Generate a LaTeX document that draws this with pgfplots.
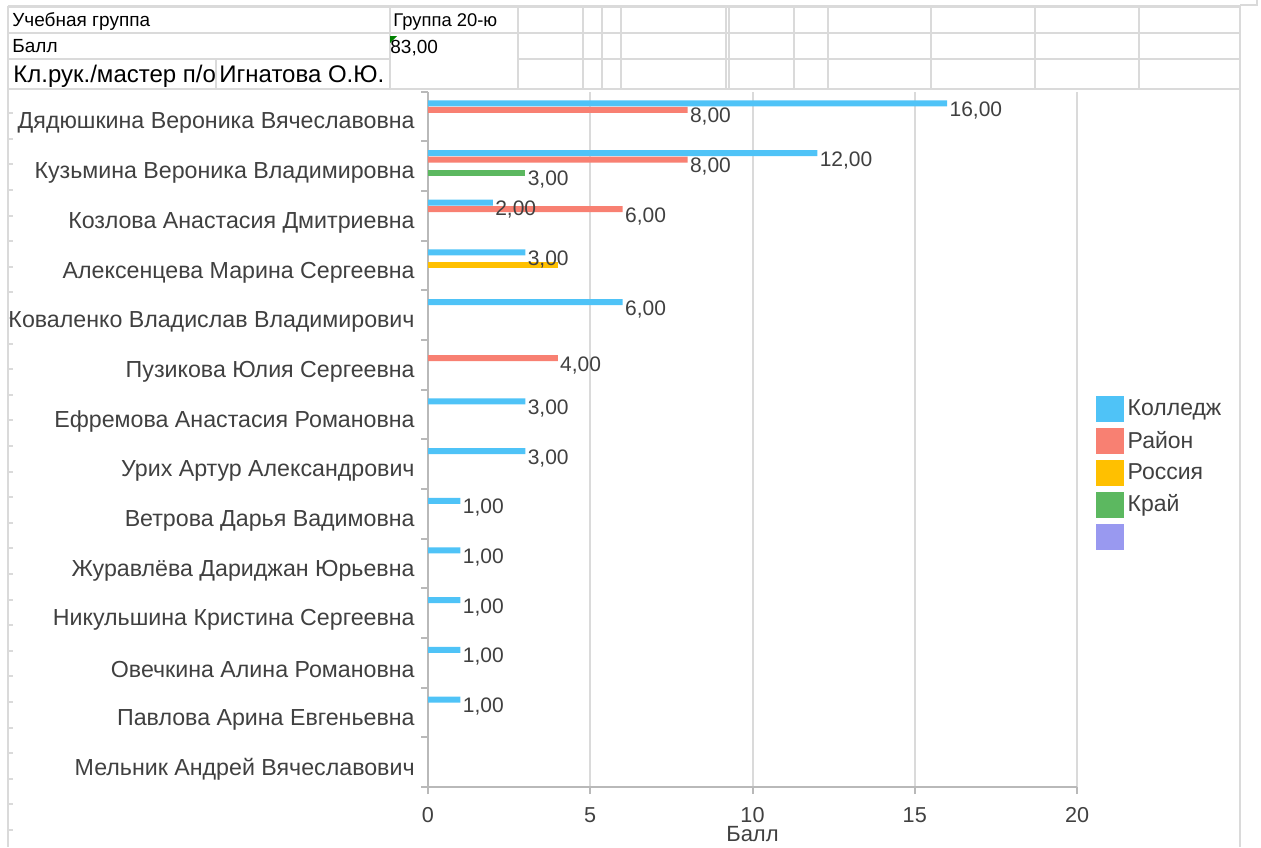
\documentclass[border=0pt]{standalone}
\usepackage{fontspec}
\setmainfont{Liberation Sans}
\usepackage{pgfplots}
\pgfplotsset{compat=1.18}

\definecolor{cblue}{RGB}{79,195,247}
\definecolor{cred}{RGB}{248,128,114}
\definecolor{cyel}{RGB}{255,192,0}
\definecolor{cgreen}{RGB}{92,184,96}
\definecolor{cpurple}{RGB}{153,153,240}
\definecolor{txt}{RGB}{64,64,64}
\definecolor{gridc}{RGB}{218,218,218}
\definecolor{axgray}{RGB}{185,185,185}

\pgfplotsset{
  lbl/.style={nodes near coords={\pgfmathprintnumber[fixed,fixed zerofill,precision=2,use comma]{\pgfplotspointmeta}},
    every node near coord/.append style={anchor=west, inner sep=1pt, yshift=-3.5pt, text=txt, font=\fontsize{10.5}{12}\selectfont}},
  sq/.style={legend image code/.code={\fill[#1] (0pt,-6.25pt) rectangle (13.5pt,6.25pt);}},
}

\begin{document}
\begin{tikzpicture}
\useasboundingbox (0,0) rectangle (630.5pt,-423.5pt);
% spreadsheet grid round the chart (1 px = 0.5pt)
\begin{scope}[x=0.5pt,y=-0.5pt]
  \tikzset{g/.style={draw=gridc, line width=1pt}}
  \draw[g, line width=1.5pt] (8,6) -- (1240,6);
  \draw[g] (1240,5) -- (1257,5) -- (1257,0);
  \draw[g] (8,6) -- (8,847);
  \draw[g] (1240,6) -- (1240,847);
  \draw[g] (8,33) -- (1240,33);
  \draw[g] (8,59) -- (390,59);
  \draw[g] (518,59) -- (1240,59);
  \draw[g] (8,89) -- (1240,89);
  \draw[g] (216,59) -- (216,89);
  \foreach \x in {390,518,583,602,621,726,729,794,828,931,1035,1139}
    \draw[g] (\x,6) -- (\x,89);
  \foreach \i in {0,...,28}
    \draw[g] (8,113.1+25.6*\i) -- (13,113.1+25.6*\i);
  \fill[green!50!black] (390,36) -- (397,36) -- (390,43) -- cycle;
  \node[anchor=base west, inner sep=0pt, font=\fontsize{9.5}{11}\selectfont] at (12,26) {Учебная группа};
  \node[anchor=base west, inner sep=0pt, font=\fontsize{9.5}{11}\selectfont] at (12,52) {Балл};
  \node[anchor=base west, inner sep=0pt, font=\fontsize{9.2}{11}\selectfont] at (393,26) {Группа 20-ю};
  \node[anchor=base west, inner sep=0pt, font=\fontsize{9.5}{11}\selectfont] at (390,53) {83,00};
  \node[anchor=base west, inner sep=0pt, font=\fontsize{12}{14}\selectfont] at (13,82) {Кл.рук./мастер п/о};
  \node[anchor=base west, inner sep=0pt, font=\fontsize{12}{14}\selectfont] at (219,82) {Игнатова О.Ю.};
\end{scope}

\begin{axis}[
  at={(214pt,-393.5pt)}, anchor=south west,
  scale only axis, width=324.5pt, height=347.75pt,
  xmin=0, xmax=20, ymin=0.5, ymax=14.5,
  xbar, bar width=3pt,
  axis lines*=left,
  axis line style={draw=axgray, line width=1pt},
  tick style={draw=axgray, line width=1pt},
  tick align=outside,
  major tick length=0pt, minor tick length=3.5pt,
  xtick={0,5,10,15,20}, minor xtick={0,5,10,15,20},
  ytick={1,...,14}, minor ytick={0.5,1.5,...,14.5},
  xmajorgrids, grid style={draw=gridc, line width=1pt},
  /pgf/number format/assume math mode=true,
  ticklabel style={text=txt, font=\fontsize{10.8}{12}\selectfont, inner sep=0pt},
  xticklabel style={yshift=-10pt},
  yticklabel style={xshift=-6.5pt, yshift=-3.5pt, font=\fontsize{11.6}{13}\selectfont},
  yticklabels={Мельник Андрей Вячеславович, Павлова Арина Евгеньевна, Овечкина Алина Романовна,
    Никульшина Кристина Сергеевна, Журавлёва Дариджан Юрьевна, Ветрова Дарья Вадимовна,
    Урих Артур Александрович, Ефремова Анастасия Романовна, Пузикова Юлия Сергеевна,
    Коваленко Владислав Владимирович, Алексенцева Марина Сергеевна, Козлова Анастасия Дмитриевна,
    Кузьмина Вероника Владимировна, Дядюшкина Вероника Вячеславовна},
  xlabel={Балл},
  xlabel style={at={(axis description cs:0.5,0)}, anchor=north, inner sep=0pt, yshift=-19.5pt, text=txt, font=\fontsize{11}{13}\selectfont},
  legend style={draw=none, fill=none, at={(axis description cs:1.0293,0.5622)}, anchor=north west,
    inner sep=0pt, row sep=3pt, column sep=0.75pt, nodes={inner sep=1pt, text=txt},
    font=\fontsize{11.5}{12}\selectfont},
  legend cell align=left,
]
% Колледж
\addplot[forget plot, draw=none, fill=cblue, bar shift=6.5pt, lbl] coordinates {
  (16,14) (12,13) (2,12) (3,11) (6,10) (3,8) (3,7) (1,6) (1,5) (1,4) (1,3) (1,2)};
% Район
\addplot[forget plot, draw=none, fill=cred, bar shift=3.25pt, lbl] coordinates {
  (8,14) (8,13) (6,12) (4,9)};
% Россия
\addplot[forget plot, draw=none, fill=cyel, bar shift=0pt] coordinates {
  (4,11)};
% Край
\addplot[forget plot, draw=none, fill=cgreen, bar shift=-3.25pt, lbl] coordinates {
  (3,13)};

\addlegendimage{sq=cblue}\addlegendentry{Колледж}
\addlegendimage{sq=cred}\addlegendentry{Район}
\addlegendimage{sq=cyel}\addlegendentry{Россия}
\addlegendimage{sq=cgreen}\addlegendentry{Край}
\addlegendimage{sq=cpurple}\addlegendentry{\strut}
\end{axis}
\end{tikzpicture}
\end{document}
